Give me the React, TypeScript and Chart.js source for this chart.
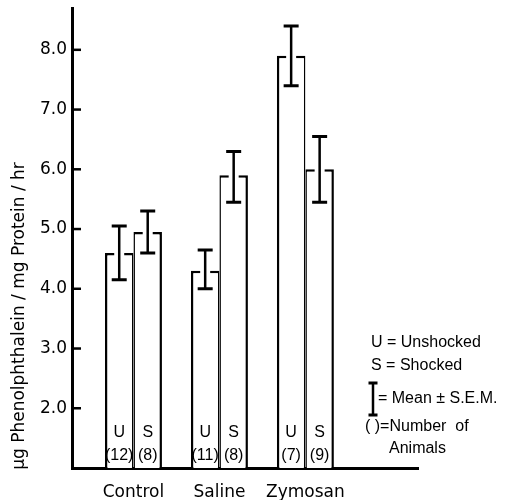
import React, { useEffect, useRef } from "react";
import { Chart, registerables } from "chart.js";

Chart.register(...registerables);

// ---- data ----
const categories = ["Control", "Saline", "Zymosan"];
const groupCodes = ["U", "S"];
const unshockedMean = [4.6, 4.3, 7.9];
const unshockedLow = [4.15, 4.0, 7.4];
const unshockedHigh = [5.05, 4.65, 8.4];
const shockedMean = [4.95, 5.9, 6.0];
const shockedLow = [4.6, 5.45, 5.45];
const shockedHigh = [5.3, 6.3, 6.55];
const unshockedN = ["(12)", "(11)", "(7)"];
const shockedN = ["(8)", "(8)", "(9)"];
const yTicks = [2, 3, 4, 5, 6, 7, 8];
const yAxisTitle = "\u03BCg Phenolphthalein / mg Protein / hr";
const legendU = "U = Unshocked";
const legendS = "S = Shocked";
const legendErr = "= Mean \u00B1 S.E.M.";
const legendN1 = "( )=Number  of";
const legendN2 = "Animals";

const TICK_FONT = "DejaVu Sans";
const TEXT_FONT = "Liberation Sans";

const lows = [unshockedLow, shockedLow];
const highs = [unshockedHigh, shockedHigh];
const counts = [unshockedN, shockedN];

const decorPlugin = {
  id: "decor",
  afterDatasetsDraw(chart: any) {
    const ctx = chart.ctx;
    const y = chart.scales.y;
    ctx.save();
    chart.data.datasets.forEach((_ds: any, di: number) => {
      const meta = chart.getDatasetMeta(di);
      meta.data.forEach((bar: any, i: number) => {
        const x = bar.x;
        const top = bar.y;
        ctx.fillStyle = "#fff";
        ctx.fillRect(x - 5, top - 1, 10, 5);
        const yl = y.getPixelForValue(lows[di][i]);
        const yh = y.getPixelForValue(highs[di][i]);
        ctx.strokeStyle = "#000";
        ctx.lineWidth = 2.5;
        ctx.beginPath();
        ctx.moveTo(x, yh);
        ctx.lineTo(x, yl);
        ctx.stroke();
        ctx.lineWidth = 3;
        ctx.beginPath();
        ctx.moveTo(x - 7.5, yh);
        ctx.lineTo(x + 7.5, yh);
        ctx.moveTo(x - 7.5, yl);
        ctx.lineTo(x + 7.5, yl);
        ctx.stroke();
        const base = y.getPixelForValue(y.min);
        ctx.fillStyle = "#000";
        ctx.textAlign = "center";
        ctx.textBaseline = "middle";
        ctx.font = `16px "${TEXT_FONT}"`;
        ctx.fillText(groupCodes[di], x, base - 35);
        ctx.fillText(counts[di][i], x, base - 12);
      });
    });
    ctx.restore();
  },
  afterDraw(chart: any) {
    const ctx = chart.ctx;
    const y = chart.scales.y;
    const area = chart.chartArea;
    ctx.save();
    ctx.strokeStyle = "#000";
    ctx.lineWidth = 2.5;
    y.ticks.forEach((t: any) => {
      const py = y.getPixelForValue(t.value);
      ctx.beginPath();
      ctx.moveTo(area.left, py);
      ctx.lineTo(area.left + 9, py);
      ctx.stroke();
    });
    ctx.fillStyle = "#000";
    ctx.font = `17px "${TICK_FONT}"`;
    ctx.textAlign = "center";
    ctx.textBaseline = "middle";
    ctx.save();
    ctx.translate(20, 316);
    ctx.rotate(-Math.PI / 2);
    ctx.fillText(yAxisTitle, 0, 0);
    ctx.restore();
    ctx.font = `16px "${TEXT_FONT}"`;
    ctx.textAlign = "left";
    ctx.fillText(legendU, 371, 343);
    ctx.fillText(legendS, 371, 366);
    ctx.fillText(legendErr, 378, 399);
    ctx.fillText(legendN1, 365, 427);
    ctx.fillText(legendN2, 389, 449);
    ctx.lineWidth = 2.5;
    ctx.beginPath();
    ctx.moveTo(373, 383);
    ctx.lineTo(373, 415);
    ctx.stroke();
    ctx.lineWidth = 3;
    ctx.beginPath();
    ctx.moveTo(368.5, 383);
    ctx.lineTo(377.5, 383);
    ctx.moveTo(368.5, 415);
    ctx.lineTo(377.5, 415);
    ctx.stroke();
    ctx.restore();
  },
};

export default function App() {
  const ref = useRef<HTMLCanvasElement | null>(null);
  useEffect(() => {
    if (!ref.current) return;
    const chart = new Chart(ref.current, {
      type: "bar",
      data: {
        datasets: [
          {
            label: "Unshocked",
            data: unshockedMean.map((v, i) => ({ x: i, y: v })),
            backgroundColor: "#fff",
            borderColor: "#000",
            borderWidth: { top: 2.5, left: 2.5, right: 1.5, bottom: 0 },
            borderSkipped: "bottom",
          },
          {
            label: "Shocked",
            data: shockedMean.map((v, i) => ({ x: i, y: v })),
            backgroundColor: "#fff",
            borderColor: "#000",
            borderWidth: { top: 2.5, left: 1.5, right: 2.5, bottom: 0 },
            borderSkipped: "bottom",
          },
        ],
      },
      options: {
        responsive: false,
        animation: false,
        categoryPercentage: 0.663,
        barPercentage: 1,
        layout: { padding: { top: 8, right: 89, left: 0, bottom: 0 } },
        plugins: {
          legend: { display: false },
          tooltip: { enabled: false },
          title: { display: false },
        },
        scales: {
          x: {
            type: "linear",
            offset: false,
            bounds: "data",
            min: -0.715,
            max: 3.31,
            grid: { display: false, drawTicks: false, offset: false },
            border: { display: true, width: 3, color: "#000" },
            afterBuildTicks: (scale: any) => {
              scale.ticks = categories.map((_c, i) => ({ value: i }));
            },
            afterFit: (scale: any) => {
              scale.height = 32;
              scale.paddingLeft = 0;
              scale.paddingRight = 0;
            },
            ticks: {
              autoSkip: false,
              maxRotation: 0,
              padding: 14,
              color: "#000",
              font: { family: TICK_FONT, size: 17 },
              callback: (v: any) => categories[v] ?? "",
            },
          },
          y: {
            type: "linear",
            min: 1.0,
            max: 8.7,
            grid: { display: false, drawTicks: false },
            border: { display: true, width: 3, color: "#000" },
            afterBuildTicks: (scale: any) => {
              scale.ticks = yTicks.map((v) => ({ value: v }));
            },
            afterFit: (scale: any) => {
              scale.width = 72;
              scale.paddingTop = 0;
              scale.paddingBottom = 0;
            },
            ticks: {
              padding: 5,
              color: "#000",
              font: { family: TICK_FONT, size: 17 },
              callback: (v: any) => Number(v).toFixed(1),
            },
          },
        },
      },
      plugins: [decorPlugin],
    } as any);
    return () => chart.destroy();
  }, []);
  return (
    <div style={{ position: "absolute", left: 0, top: 0, width: 507, height: 500, background: "#fff" }}>
      <canvas ref={ref} width={507} height={500} style={{ display: "block" }} />
    </div>
  );
}
